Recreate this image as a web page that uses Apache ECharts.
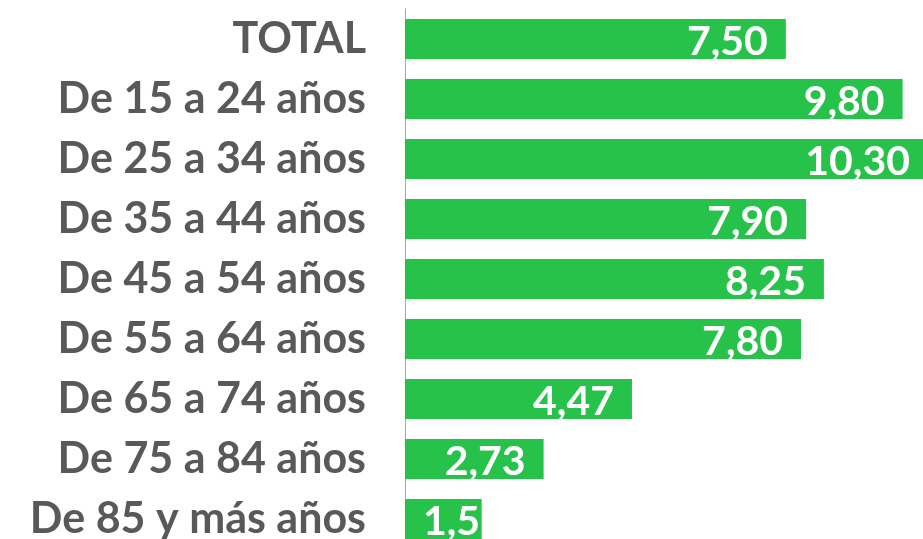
<!DOCTYPE html>
<html>
<head>
<meta charset="utf-8">
<script src="https://cdn.jsdelivr.net/npm/echarts@6/dist/echarts.min.js"></script>
<style>
  html, body { margin: 0; padding: 0; background: #fff; }
  #container { width: 923px; height: 539px; }
</style>
</head>
<body>
<div id="container"></div>
<script>
// grupos de edad y valores
const categorias = [
  "TOTAL",
  "De 15 a 24 años",
  "De 25 a 34 años",
  "De 35 a 44 años",
  "De 45 a 54 años",
  "De 55 a 64 años",
  "De 65 a 74 años",
  "De 75 a 84 años",
  "De 85 y más años"
];
const valores = [7.50, 9.80, 10.30, 7.90, 8.25, 7.80, 4.47, 2.73, 1.51];

const verde = "#26c24a";

function grafica() {
  let dom = document.getElementById("container");
  let myChart = echarts.init(dom, null, { renderer: "canvas" });

  // el ultimo valor es muy corto, la etiqueta va al inicio de la barra
  const datos = valores.map((v, i) => {
    if (i === valores.length - 1) {
      return { value: v, label: { position: "insideLeft" } };
    }
    return v;
  });

  let option = {
    animation: false,
    grid: { left: 405, top: 9, width: 523, height: 540, outerBoundsMode: "none" },
    xAxis: {
      type: "value",
      min: 0,
      max: 10.3,
      show: false
    },
    yAxis: {
      type: "category",
      inverse: true,
      data: categorias,
      axisLine: { show: true, lineStyle: { color: "#a6a6a6", width: 1 } },
      axisTick: { show: false },
      axisLabel: {
        margin: 39,
        color: "#595959",
        fontFamily: "Lato",
        fontWeight: "bold",
        fontSize: 43
      }
    },
    series: [
      {
        type: "bar",
        data: datos,
        barWidth: 40,
        itemStyle: { color: verde },
        label: {
          show: true,
          position: "insideRight",
          distance: 18,
          offset: [0, 3],
          color: "#fff",
          fontFamily: "Lato",
          fontWeight: "bold",
          fontSize: 41,
          formatter: (p) => p.value.toFixed(2).replace(".", ",")
        }
      }
    ]
  };

  myChart.setOption(option);
  window.addEventListener("resize", myChart.resize);
}

grafica();
</script>
</body>
</html>
